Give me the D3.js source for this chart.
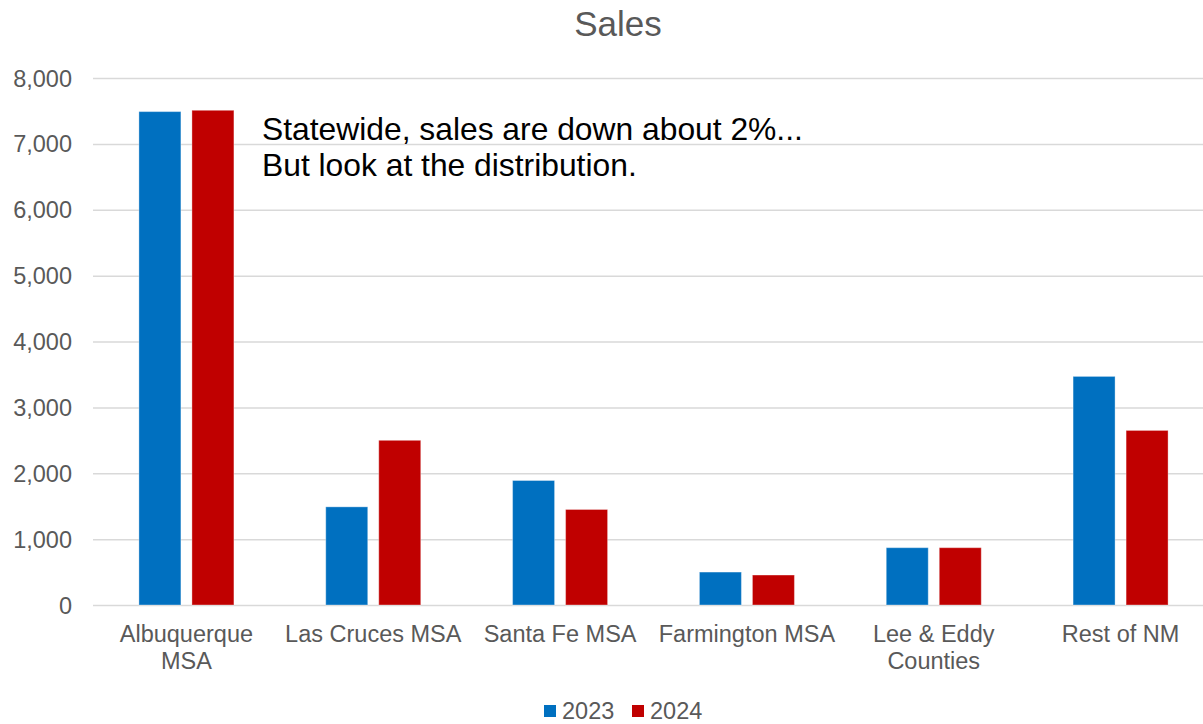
<!DOCTYPE html>
<html>
<head>
<meta charset="utf-8">
<script src="https://cdn.jsdelivr.net/npm/d3@7"></script>
<style>
  html, body { margin: 0; padding: 0; background: #ffffff; }
  svg { display: block; font-family: "Liberation Sans", Arial, sans-serif; }
</style>
</head>
<body>
<svg id="chart" width="1203" height="724"></svg>
<script>
// Home sales by region, 2023 vs 2024
const categories = [
  ["Albuquerque", "MSA"],
  ["Las Cruces MSA"],
  ["Santa Fe MSA"],
  ["Farmington MSA"],
  ["Lee & Eddy", "Counties"],
  ["Rest of NM"]
];
const seriesNames = ["2023", "2024"];
const sales2023 = [7490, 1490, 1890, 500, 870, 3470];
const sales2024 = [7510, 2500, 1450, 455, 870, 2650];
const yTicks = [0, 1000, 2000, 3000, 4000, 5000, 6000, 7000, 8000];
const seriesColors = ["#0070C0", "#C00000"];
const noteLines = ["Statewide, sales are down about 2%...", "But look at the distribution."];

const svg = d3.select("#chart");
const textColor = "#595959";

const plot = { left: 93, right: 1214, top: 78, bottom: 605 };

const keys = categories.map(c => c.join(" "));
const x0 = d3.scaleBand().domain(keys).range([plot.left, plot.right]).padding(0);
const groupW = 95;
const x1 = d3.scaleBand().domain(seriesNames)
  .range([(x0.bandwidth() - groupW) / 2, (x0.bandwidth() + groupW) / 2])
  .paddingInner(0.208).paddingOuter(0);
const y = d3.scaleLinear().domain([0, 8000]).range([plot.bottom, plot.top]);

// Title
svg.append("text")
  .attr("x", 618).attr("y", 36)
  .attr("text-anchor", "middle")
  .attr("fill", textColor)
  .style("font-size", "35px")
  .text("Sales");

// Horizontal gridlines
svg.append("g").selectAll("line").data(yTicks).join("line")
  .attr("x1", plot.left).attr("x2", plot.right)
  .attr("y1", d => y(d) + 0.5).attr("y2", d => y(d) + 0.5)
  .attr("stroke", "#D9D9D9").attr("stroke-width", 1.5);

// Y axis labels
const yAxis = d3.axisLeft(y).tickValues(yTicks).tickFormat(d3.format(",")).tickSize(0).tickPadding(21);
const yg = svg.append("g").attr("transform", `translate(${plot.left},0.5)`).call(yAxis);
yg.select(".domain").remove();
yg.selectAll("text").attr("fill", textColor).style("font-size", "23.5px")
  .style("font-family", "'Liberation Sans', Arial, sans-serif");

// Bars
const rows = keys.map((k, i) => ({ key: k, values: [sales2023[i], sales2024[i]] }));
const groups = svg.append("g").selectAll("g").data(rows).join("g")
  .attr("transform", d => `translate(${x0(d.key)},0)`);
groups.selectAll("rect")
  .data(d => d.values.map((v, j) => ({ name: seriesNames[j], value: v, color: seriesColors[j] })))
  .join("rect")
  .attr("x", d => x1(d.name))
  .attr("width", x1.bandwidth())
  .attr("y", d => y(d.value))
  .attr("height", d => y(0) - y(d.value))
  .attr("fill", d => d.color)
  .attr("stroke", "rgba(255,255,255,0.35)")
  .attr("stroke-width", 1);

// Category labels
const cat = svg.append("g").selectAll("text").data(categories).join("text")
  .attr("x", (d, i) => x0(keys[i]) + x0.bandwidth() / 2)
  .attr("y", 642)
  .attr("text-anchor", "middle")
  .attr("fill", textColor)
  .style("font-size", "23.5px");
cat.selectAll("tspan").data(d => d).join("tspan")
  .attr("x", function () { return d3.select(this.parentNode).attr("x"); })
  .attr("dy", (d, i) => i === 0 ? 0 : 26.5)
  .text(d => d);

// Annotation
svg.append("text")
  .attr("x", 262).attr("y", 140)
  .attr("fill", "#000000")
  .style("font-size", "31.8px")
  .selectAll("tspan").data(noteLines).join("tspan")
  .attr("x", 262)
  .attr("dy", (d, i) => i === 0 ? 0 : 36)
  .text(d => d);

// Legend
const legend = svg.append("g").selectAll("g").data(seriesNames).join("g")
  .attr("transform", (d, i) => `translate(${544 + i * 88},0)`);
legend.append("rect")
  .attr("x", 0).attr("y", 705).attr("width", 12).attr("height", 12)
  .attr("fill", (d, i) => seriesColors[i]);
legend.append("text")
  .attr("x", 18).attr("y", 719)
  .attr("fill", textColor)
  .style("font-size", "23.5px")
  .text(d => d);
</script>
</body>
</html>
